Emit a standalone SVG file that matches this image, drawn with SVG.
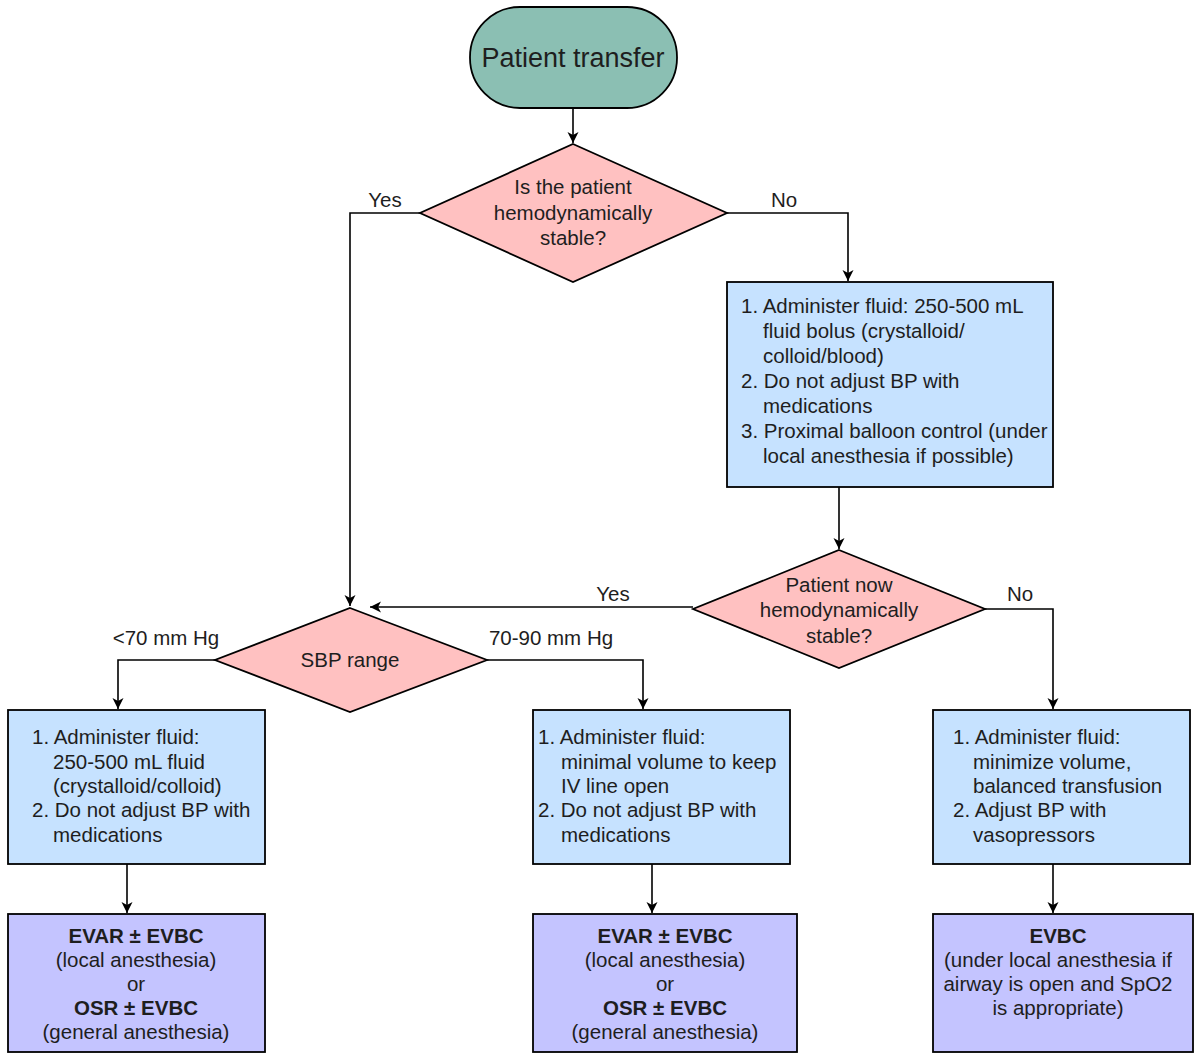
<svg xmlns="http://www.w3.org/2000/svg" width="1200" height="1063" viewBox="0 0 1200 1063">
<style>
text{font-family:"Liberation Sans",Arial,sans-serif;font-size:20.5px;fill:#1e1e1e}
.c{text-anchor:middle}
.b{font-weight:bold}
.shape{stroke:#000;stroke-width:1.8}
.term{fill:#8bbfb3}
.dec{fill:#ffc1c1}
.act{fill:#c6e2ff}
.end{fill:#c4c4ff}
.conn{fill:none;stroke:#000;stroke-width:1.6}
</style>
<defs>
<marker id="ah" markerWidth="12" markerHeight="12" refX="11" refY="6" orient="auto" markerUnits="userSpaceOnUse">
<path d="M0,0.5 L11,6 L0,11.5 L3,6 Z" fill="#000"/>
</marker>
</defs>
<rect width="1200" height="1063" fill="#fff"/>
<g id="connectors">
<path class="conn" d="M573,108 V143" marker-end="url(#ah)"/>
<path class="conn" d="M420,213 H350 V606" marker-end="url(#ah)"/>
<path class="conn" d="M727,213 H848 V281" marker-end="url(#ah)"/>
<path class="conn" d="M839,487 V549" marker-end="url(#ah)"/>
<path class="conn" d="M693,607 H370" marker-end="url(#ah)"/>
<path class="conn" d="M985,609 H1053 V709" marker-end="url(#ah)"/>
<path class="conn" d="M215,660 H118 V709" marker-end="url(#ah)"/>
<path class="conn" d="M487,660 H643 V709" marker-end="url(#ah)"/>
<path class="conn" d="M127,864 V913" marker-end="url(#ah)"/>
<path class="conn" d="M652,864 V913" marker-end="url(#ah)"/>
<path class="conn" d="M1053,864 V913" marker-end="url(#ah)"/>
<text x="385" y="207" class="c">Yes</text>
<text x="784" y="207" class="c">No</text>
<text x="613" y="601" class="c">Yes</text>
<text x="1020" y="601" class="c">No</text>
<text x="166" y="645" class="c">&lt;70 mm Hg</text>
<text x="551" y="645" class="c">70-90 mm Hg</text>
</g>
<g id="start">
<rect class="shape term" x="470" y="7" width="207" height="101" rx="50" ry="50"/>
<text x="573" y="67" class="c" style="font-size:27px">Patient transfer</text>
</g>
<g id="decision1">
<polygon class="shape dec" points="573,144 727,213 573,282 420,213"/>
<text x="573" y="194" class="c">Is the patient</text>
<text x="573" y="220" class="c">hemodynamically</text>
<text x="573" y="245" class="c">stable?</text>
</g>
<g id="unstable-actions">
<rect class="shape act" x="727" y="282" width="326" height="205"/>
<text x="741" y="313">1. Administer fluid: 250-500 mL</text>
<text x="763" y="338">fluid bolus (crystalloid/</text>
<text x="763" y="363">colloid/blood)</text>
<text x="741" y="388">2. Do not adjust BP with</text>
<text x="763" y="413">medications</text>
<text x="741" y="438">3. Proximal balloon control (under</text>
<text x="763" y="463">local anesthesia if possible)</text>
</g>
<g id="decision2">
<polygon class="shape dec" points="839,550 985,609 839,668 693,609"/>
<text x="839" y="592" class="c">Patient now</text>
<text x="839" y="617" class="c">hemodynamically</text>
<text x="839" y="643" class="c">stable?</text>
</g>
<g id="sbp">
<polygon class="shape dec" points="350,608 487,660 350,712 215,660"/>
<text x="350" y="667" class="c">SBP range</text>
</g>
<g id="actions-low">
<rect class="shape act" x="8" y="710" width="257" height="154"/>
<text x="32" y="744">1. Administer fluid:</text>
<text x="53" y="769">250-500 mL fluid</text>
<text x="53" y="793">(crystalloid/colloid)</text>
<text x="32" y="817">2. Do not adjust BP with</text>
<text x="53" y="842">medications</text>
</g>
<g id="actions-mid">
<rect class="shape act" x="533" y="710" width="257" height="154"/>
<text x="538" y="744">1. Administer fluid:</text>
<text x="561" y="769">minimal volume to keep</text>
<text x="561" y="793">IV line open</text>
<text x="538" y="817">2. Do not adjust BP with</text>
<text x="561" y="842">medications</text>
</g>
<g id="actions-unstable">
<rect class="shape act" x="933" y="710" width="257" height="154"/>
<text x="953" y="744">1. Administer fluid:</text>
<text x="973" y="769">minimize volume,</text>
<text x="973" y="793">balanced transfusion</text>
<text x="953" y="817">2. Adjust BP with</text>
<text x="973" y="842">vasopressors</text>
</g>
<g id="outcome-low">
<rect class="shape end" x="8" y="914" width="257" height="138"/>
<text x="136" y="943" class="c b">EVAR ± EVBC</text>
<text x="136" y="967" class="c">(local anesthesia)</text>
<text x="136" y="991" class="c">or</text>
<text x="136" y="1015" class="c b">OSR ± EVBC</text>
<text x="136" y="1039" class="c">(general anesthesia)</text>
</g>
<g id="outcome-mid">
<rect class="shape end" x="533" y="914" width="264" height="138"/>
<text x="665" y="943" class="c b">EVAR ± EVBC</text>
<text x="665" y="967" class="c">(local anesthesia)</text>
<text x="665" y="991" class="c">or</text>
<text x="665" y="1015" class="c b">OSR ± EVBC</text>
<text x="665" y="1039" class="c">(general anesthesia)</text>
</g>
<g id="outcome-unstable">
<rect class="shape end" x="933" y="914" width="260" height="138"/>
<text x="1058" y="943" class="c b">EVBC</text>
<text x="1058" y="967" class="c">(under local anesthesia if</text>
<text x="1058" y="991" class="c">airway is open and SpO2</text>
<text x="1058" y="1015" class="c">is appropriate)</text>
</g>
</svg>
